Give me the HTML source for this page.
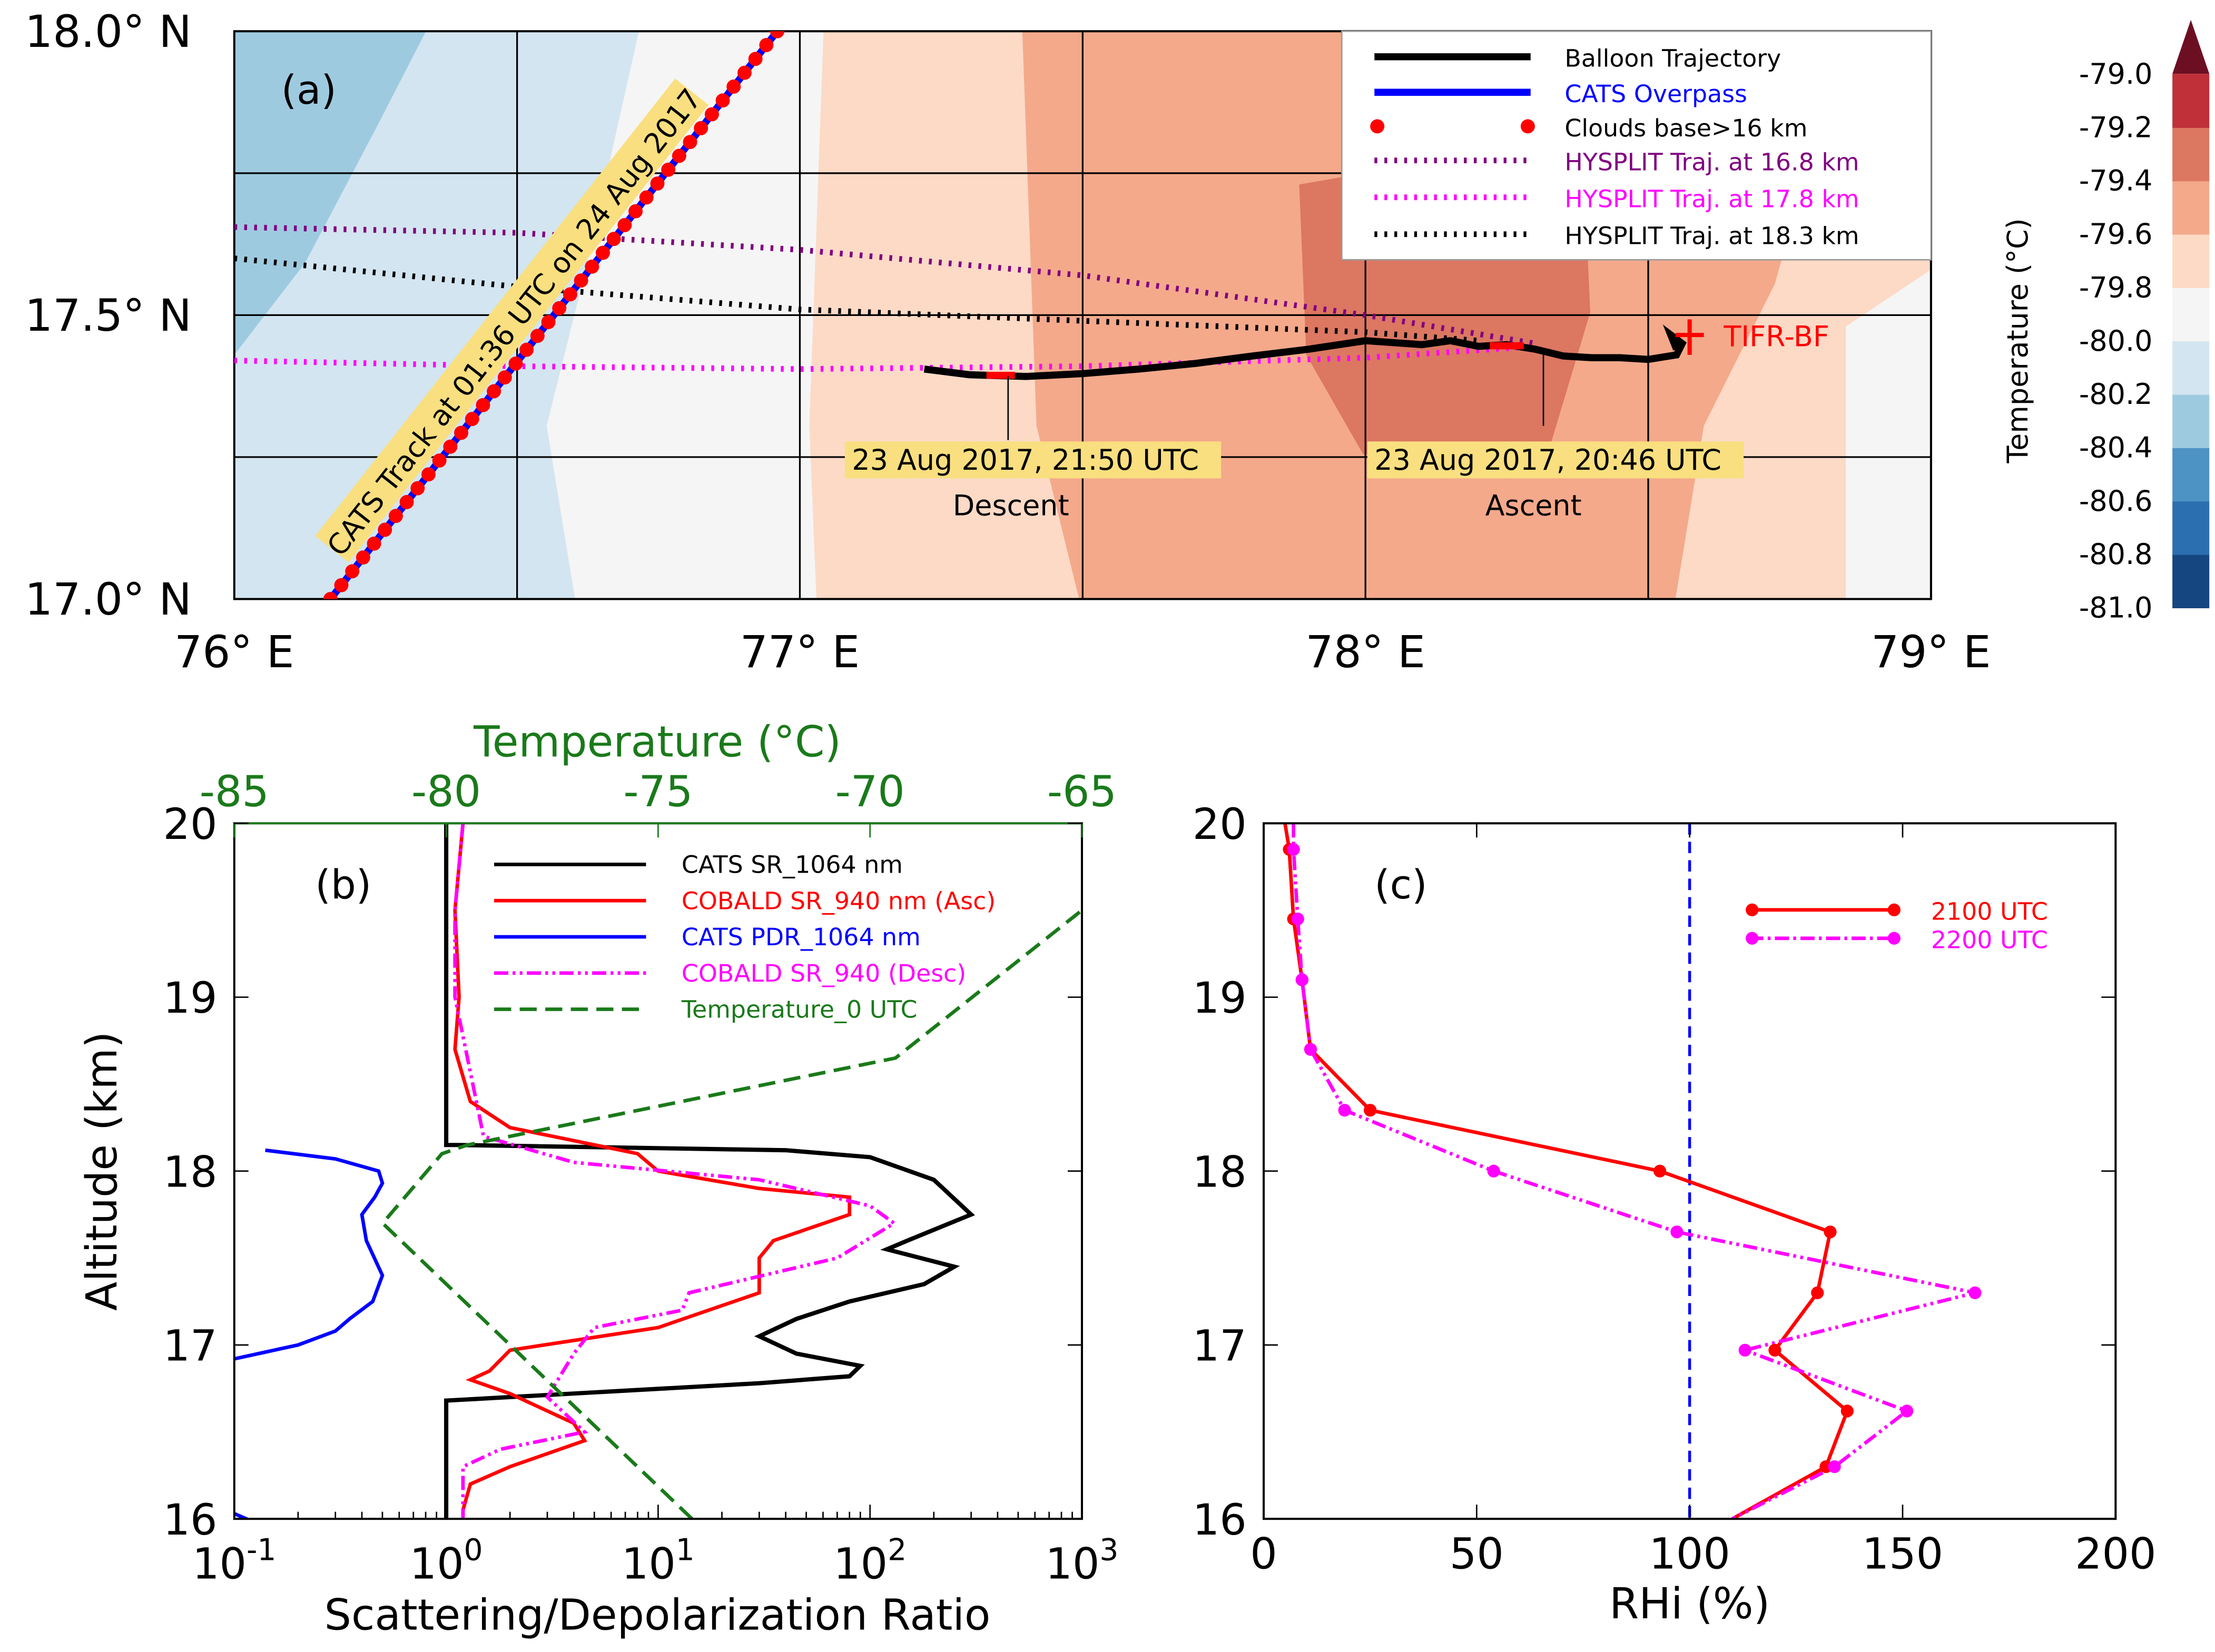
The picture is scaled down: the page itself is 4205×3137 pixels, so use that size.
<!DOCTYPE html>
<html><head><meta charset="utf-8"><style>
html,body{margin:0;padding:0;background:#fff}
svg{display:block;font-family:"DejaVu Sans","Liberation Sans",sans-serif}
</style></head><body>
<svg id="fig" width="4205" height="3137" viewBox="0 0 1560 1163.8" xmlns="http://www.w3.org/2000/svg">
<defs>
<clipPath id="clipA"><rect x="165" y="22" width="1195" height="400"/></clipPath>
<clipPath id="clipB"><rect x="165" y="580" width="597" height="490"/></clipPath>
<clipPath id="clipC"><rect x="890" y="580" width="600" height="490"/></clipPath>
</defs>
<g id="panelA">
<g clip-path="url(#clipA)" id="mapFill">
<rect x="165" y="22" width="1195" height="400" fill="#f5f5f5"/>
<polygon points="165,22 450,22 410,200 385,300 405,422 165,422" fill="#d3e5f0"/>
<polygon points="165,22 300,22 265,90 215,185 165,250" fill="#9ecae0"/>
<polygon points="580,22 1360,22 1360,190 1300,230 1300,422 575,422 570,300" fill="#fcdac6"/>
<polygon points="720,22 1300,22 1250,200 1200,300 1180,422 760,422 730,300" fill="#f4a98b"/>
<polygon points="915,130 1030,110 1115,110 1120,220 1090,320 960,320 920,250" fill="#dc7761"/>
</g>
<g id="gridA" stroke="#000" stroke-width="1.2"></g>
<rect x="165" y="22" width="1195" height="400" fill="none" stroke="#000" stroke-width="1.5"/>
<g id="mapData" clip-path="url(#clipA)"></g>
<text x="198" y="73" font-size="28">(a)</text>
<g id="axisA"></g>
<g>
<rect x="945" y="22" width="415" height="161" fill="#fff" stroke="#999" stroke-width="1"/>
<line x1="968" y1="40" x2="1078" y2="40" stroke="#000" stroke-width="5"/>
<text x="1102" y="47" font-size="17">Balloon Trajectory</text>
<line x1="968" y1="65" x2="1078" y2="65" stroke="#00f" stroke-width="5"/>
<text x="1102" y="72" font-size="17" fill="#00f">CATS Overpass</text>
<circle cx="970" cy="89" r="5" fill="#f00"/><circle cx="1076" cy="89" r="5" fill="#f00"/>
<text x="1102" y="96" font-size="17">Clouds base&gt;16 km</text>
<line x1="968" y1="113" x2="1078" y2="113" stroke="#800080" stroke-width="4" stroke-dasharray="2,5"/>
<text x="1102" y="120" font-size="17" fill="#800080">HYSPLIT Traj. at 16.8 km</text>
<line x1="968" y1="139" x2="1078" y2="139" stroke="#f0f" stroke-width="4" stroke-dasharray="2,5"/>
<text x="1102" y="146" font-size="17" fill="#f0f">HYSPLIT Traj. at 17.8 km</text>
<line x1="968" y1="165" x2="1078" y2="165" stroke="#000" stroke-width="4" stroke-dasharray="2,5"/>
<text x="1102" y="172" font-size="17">HYSPLIT Traj. at 18.3 km</text>
</g>
<g id="cbar"></g>
<text transform="translate(1428,240) rotate(-90)" text-anchor="middle" font-size="20">Temperature (°C)</text>
</g>
<g id="panelB"></g>
<g id="panelC"></g>
</svg>
<script>
const NS="http://www.w3.org/2000/svg";
function mk(parent,tag,attrs,text){const e=document.createElementNS(NS,tag);for(const k in attrs)e.setAttribute(k,attrs[k]);if(text!==undefined)e.textContent=text;parent.appendChild(e);return e;}
// ---------- Panel A data ----------
const lonTicks=[76,77,78,79];
const latTicks=[17.0,17.5,18.0];
const lonGrid=[76.5,77,77.5,78,78.5];
const latGrid=[17.25,17.5,17.75];
const catsLat=[17.0,18.0];
const catsLon=[76.17,76.96];
const balloonLon=[77.22,77.3,77.4,77.5,77.6,77.7,77.8,77.9,78.0,78.1,78.15,78.2,78.25,78.3,78.35,78.4,78.45,78.5,78.55,78.56,78.54,78.55];
const balloonLat=[17.405,17.395,17.392,17.397,17.405,17.415,17.428,17.44,17.455,17.448,17.455,17.445,17.448,17.44,17.428,17.425,17.425,17.422,17.43,17.45,17.465,17.44];
const hyPurpleLon=[76.0,76.5,77.0,77.5,78.0,78.3];
const hyPurpleLat=[17.655,17.645,17.615,17.57,17.5,17.45];
const hyBlackLon=[76.0,76.5,77.0,77.5,78.0,78.2];
const hyBlackLat=[17.6,17.55,17.51,17.49,17.47,17.455];
const hyMagLon=[76.0,76.5,77.0,77.5,78.0,78.3];
const hyMagLat=[17.42,17.41,17.405,17.41,17.425,17.445];
const cbLevels=[-81.0,-80.8,-80.6,-80.4,-80.2,-80.0,-79.8,-79.6,-79.4,-79.2,-79.0];
const cbColors=["#15467f","#2c6fb0","#4d93c4","#9ecae0","#d3e5f0","#f5f5f5","#fcdac6","#f4a98b","#dc7761","#bf3039"];
const ax=lon=>165+(lon-76)*398.33, ay=lat=>422-(lat-17)*400;
const gridA=document.getElementById('gridA');
lonGrid.forEach(l=>{const e=mk(gridA,'line',{x1:ax(l),x2:ax(l),y1:22,y2:422});});
latGrid.forEach(l=>{const e=mk(gridA,'line',{x1:165,x2:1360,y1:ay(l),y2:ay(l)});});
const axisA=document.getElementById('axisA');
lonTicks.forEach(l=>{const t=mk(axisA,'text',{x:ax(l),y:470,'font-size':31,'text-anchor':'middle'},l+'° E');});
latTicks.forEach(l=>{const t=mk(axisA,'text',{x:135,y:ay(l)+11,'font-size':31,'text-anchor':'end'},l.toFixed(1)+'° N');});
const md=document.getElementById('mapData');
function pl(parent,xs,ys,fx,fy,attrs,name){const p=xs.map((v,i)=>fx(v)+','+fy(ys[i])).join(' ');const e=mk(parent,'polyline',Object.assign({points:p,fill:'none'},attrs));return e;}
pl(md,hyPurpleLon,hyPurpleLat,ax,ay,{stroke:'#800080','stroke-width':4,'stroke-dasharray':'2,5'},'hysplit-16-8km');
pl(md,hyBlackLon,hyBlackLat,ax,ay,{stroke:'#000','stroke-width':4,'stroke-dasharray':'2,5'},'hysplit-18-3km');
pl(md,hyMagLon,hyMagLat,ax,ay,{stroke:'#f0f','stroke-width':4,'stroke-dasharray':'2,5'},'hysplit-17-8km');
const x0=ax(catsLon[0]),y0=ay(catsLat[0]),x1=ax(catsLon[1]),y1=ay(catsLat[1]);
const ang=Math.atan2(y1-y0,x1-x0)*180/Math.PI;
const lg=mk(md,'g',{transform:`translate(${(x0+x1)/2-28},${(y0+y1)/2+5}) rotate(${ang})`});

mk(lg,'rect',{x:-205,y:-17,width:410,height:30,fill:'#f9df7f'});
mk(lg,'text',{x:0,y:7,'font-size':20,'text-anchor':'middle'},'CATS Track at 01:36 UTC on 24 Aug 2017');
pl(md,catsLon,catsLat,ax,ay,{stroke:'#00f','stroke-width':5},'cats-overpass');
for(let i=0;i<=41;i++){const f=i/41;const c=mk(md,'circle',{cx:x0+(x1-x0)*f,cy:y0+(y1-y0)*f,r:5,fill:'#f00'});}
pl(md,balloonLon,balloonLat,ax,ay,{stroke:'#000','stroke-width':5},'balloon-trajectory');
[[77.33,77.38,17.394],[78.22,78.28,17.446]].forEach(s=>{const e=mk(md,'line',{x1:ax(s[0]),x2:ax(s[1]),y1:ay(s[2]),y2:ay(s[2]),stroke:'#f00','stroke-width':5});});
const pa=document.getElementById('panelA');
const tifr=mk(pa,'g',{});
mk(tifr,'line',{x1:1180,x2:1200,y1:236,y2:236,stroke:'#f00','stroke-width':3});
mk(tifr,'line',{x1:1190,x2:1190,y1:225,y2:250,stroke:'#f00','stroke-width':3});
mk(tifr,'text',{x:1214,y:244,'font-size':20,fill:'#f00'},'TIFR-BF');
[[710,265,710,310,600,'23 Aug 2017, 21:50 UTC',712,'Descent'],[1087,250,1087,300,968,'23 Aug 2017, 20:46 UTC',1080,'Ascent']].forEach(a=>{
 const g=mk(pa,'g',{});
 mk(g,'line',{x1:a[0],y1:a[1],x2:a[2],y2:a[3],stroke:'#000','stroke-width':1});
 mk(g,'rect',{x:a[4]-5,y:311,width:265,height:26,fill:'#f9df7f'});
 mk(g,'text',{x:a[4],y:331,'font-size':20},a[5]);
 mk(g,'text',{x:a[6],y:363,'font-size':20,'text-anchor':'middle'},a[7]);
});
const cb=document.getElementById('cbar');const cbTop=52,cbBot=428,cbX=1530,cbW=26;const bh=(cbBot-cbTop)/cbColors.length;
cbColors.forEach((c,i)=>{const r=mk(cb,'rect',{x:cbX,y:cbBot-(i+1)*bh,width:cbW,height:bh+0.5,fill:c});});
mk(cb,'polygon',{points:`${cbX},${cbTop} ${cbX+cbW},${cbTop} ${cbX+cbW/2},14`,fill:'#6d0f22'});
cbLevels.forEach((v,i)=>{const y=cbBot-i*bh;const t=mk(cb,'text',{x:1516,y:y+7,'font-size':20,'text-anchor':'end'},v.toFixed(1));});

// ---------- Panel B data ----------
const bAlt=[16,17,18,19,20];
const bXDec=[-1,0,1,2,3];
const tTicks=[-85,-80,-75,-70,-65];
const catsSR=[1,1,1.15,40,100,200,300,150,120,250,180,80,45,30,45,90,80,30,1,1];
const catsSRAlt=[20,18.15,18.15,18.12,18.08,17.95,17.75,17.6,17.55,17.45,17.35,17.25,17.15,17.05,16.95,16.88,16.82,16.78,16.68,16];
const cobAsc=[1.2,1.1,1.15,1.1,1.3,2,8,10,30,80,80,35,30,30,10,2,1.6,1.3,2,4,4.5,2,1.3,1.2,1.2];
const cobAscAlt=[20,19.5,19,18.7,18.4,18.25,18.1,18,17.9,17.85,17.75,17.6,17.5,17.3,17.1,16.97,16.85,16.8,16.72,16.55,16.45,16.3,16.2,16.05,16];
const cobDes=[1.2,1.1,1.1,1.5,4,30,100,130,70,14,13,5,4,3,4.5,1.8,1.2,1.2];
const cobDesAlt=[20,19.5,19,18.2,18.05,17.95,17.8,17.7,17.5,17.3,17.2,17.1,16.95,16.7,16.5,16.4,16.3,16];
const pdr=[0.14,0.3,0.48,0.5,0.46,0.4,0.42,0.5,0.45,0.35,0.3,0.2,0.1];
const pdrAlt=[18.12,18.07,18.0,17.93,17.85,17.75,17.6,17.4,17.25,17.15,17.08,17.0,16.92];
const tempC=[-74.2,-81.5,-80.1,-79.5,-69.4,-65];
const tempAlt=[16,17.7,18.1,18.15,18.65,19.5];
const bx=v=>165+(Math.log10(v)+1)*149.25, by=a=>1070-(a-16)*122.5, tx=t=>165+(t+85)*29.85;
const pb=document.getElementById('panelB');
const bd=mk(pb,'g',{'clip-path':'url(#clipB)'});
pl(bd,catsSR,catsSRAlt,bx,by,{stroke:'#000','stroke-width':3},'cats-sr-1064');
pl(bd,cobAsc,cobAscAlt,bx,by,{stroke:'#f00','stroke-width':2.5},'cobald-sr-asc');
pl(bd,cobDes,cobDesAlt,bx,by,{stroke:'#f0f','stroke-width':2.5,'stroke-dasharray':'10,3,2,3,2,3'},'cobald-sr-desc');
pl(bd,pdr,pdrAlt,bx,by,{stroke:'#00f','stroke-width':2.5},'cats-pdr-1064');
pl(bd,[0.1,0.13],[16.03,15.97],bx,by,{stroke:'#00f','stroke-width':2.5},'cats-pdr-low');
pl(bd,tempC,tempAlt,tx,by,{stroke:'#1a7a1a','stroke-width':2.5,'stroke-dasharray':'12,6'},'temperature-0utc');
mk(pb,'rect',{x:165,y:580,width:597,height:490,fill:'none',stroke:'#000','stroke-width':1.5});
mk(pb,'line',{x1:165,x2:762,y1:580,y2:580,stroke:'#1a7a1a','stroke-width':1.5});
bXDec.forEach(d=>{const x=bx(Math.pow(10,d));mk(pb,'line',{x1:x,x2:x,y1:1070,y2:1060,stroke:'#000'});const t=mk(pb,'text',{x:x,y:1112,'font-size':30,'text-anchor':'middle'});t.textContent='10';mk(t,'tspan',{dy:-13,'font-size':21},String(d));
 if(d<3)for(let m=2;m<10;m++){const xm=bx(m*Math.pow(10,d));mk(pb,'line',{x1:xm,x2:xm,y1:1070,y2:1065,stroke:'#000'});}});
tTicks.forEach(v=>{const x=tx(v);mk(pb,'line',{x1:x,x2:x,y1:580,y2:590,stroke:'#1a7a1a'});const t=mk(pb,'text',{x:x,y:568,'font-size':30,'text-anchor':'middle',fill:'#1a7a1a'},String(v));});
function yTicks(g,x0,x1){bAlt.forEach(a=>{const y=by(a);mk(g,'line',{x1:x0,x2:x0+10,y1:y,y2:y,stroke:'#000'});mk(g,'line',{x1:x1,x2:x1-10,y1:y,y2:y,stroke:'#000'});const t=mk(g,'text',{x:x0-12,y:y+11,'font-size':30,'text-anchor':'end'},String(a));});}
yTicks(pb,165,762);
mk(pb,'text',{x:222,y:633,'font-size':28},'(b)');
mk(pb,'text',{x:463,y:1148,'font-size':30,'text-anchor':'middle'},'Scattering/Depolarization Ratio');
mk(pb,'text',{x:463,y:533,'font-size':30,'text-anchor':'middle',fill:'#1a7a1a'},'Temperature (°C)');
mk(pb,'text',{transform:'translate(82,825) rotate(-90)','font-size':30,'text-anchor':'middle'},'Altitude (km)');
const legB=[['CATS SR_1064 nm','#000',''],['COBALD SR_940 nm (Asc)','#f00',''],['CATS PDR_1064 nm','#00f',''],['COBALD SR_940 (Desc)','#f0f','10,3,2,3,2,3'],['Temperature_0 UTC','#1a7a1a','12,6']];
legB.forEach((l,i)=>{const y=609+i*25.5;const g=mk(pb,'g',{});mk(g,'line',{x1:348,x2:455,y1:y,y2:y,stroke:l[1],'stroke-width':2.5,'stroke-dasharray':l[2]});mk(g,'text',{x:480,y:y+6,'font-size':17,fill:l[1]},l[0]);});

// ---------- Panel C data ----------
const rhTicks=[0,50,100,150,200];
const rh2100=[5,6,7,9,11,25,93,133,130,120,137,132,110];
const rh2100Alt=[20,19.85,19.45,19.1,18.7,18.35,18.0,17.65,17.3,16.97,16.62,16.3,16.0];
const rh2200=[7,7,8,9,11,19,54,97,167,113,151,134,110];
const rh2200Alt=[20,19.85,19.45,19.1,18.7,18.35,18.0,17.65,17.3,16.97,16.62,16.3,16.0];
const cx=v=>890+v*3;
const pc=document.getElementById('panelC');
const cd=mk(pc,'g',{'clip-path':'url(#clipC)'});
mk(cd,'line',{x1:cx(100),x2:cx(100),y1:580,y2:1070,stroke:'#00f','stroke-width':2,'stroke-dasharray':'8,5'});
pl(cd,rh2100,rh2100Alt,cx,by,{stroke:'#f00','stroke-width':2.5},'rhi-2100-line');
pl(cd,rh2200,rh2200Alt,cx,by,{stroke:'#f0f','stroke-width':2.5,'stroke-dasharray':'10,3,2,3,2,3'},'rhi-2200-line');
rh2100.forEach((v,i)=>{if(i>0&&i<12){const c=mk(cd,'circle',{cx:cx(v),cy:by(rh2100Alt[i]),r:4.5,fill:'#f00'});}});
rh2200.forEach((v,i)=>{if(i>0&&i<12){const c=mk(cd,'circle',{cx:cx(v),cy:by(rh2200Alt[i]),r:4.5,fill:'#f0f'});}});
mk(pc,'rect',{x:890,y:580,width:600,height:490,fill:'none',stroke:'#000','stroke-width':1.5});
rhTicks.forEach(v=>{const x=cx(v);mk(pc,'line',{x1:x,x2:x,y1:1070,y2:1060,stroke:'#000'});mk(pc,'line',{x1:x,x2:x,y1:580,y2:590,stroke:'#000'});const t=mk(pc,'text',{x:x,y:1105,'font-size':30,'text-anchor':'middle'},String(v));});
yTicks(pc,890,1490);
mk(pc,'text',{x:968,y:633,'font-size':28},'(c)');
mk(pc,'text',{x:1190,y:1140,'font-size':30,'text-anchor':'middle'},'RHi (%)');
const lc=mk(pc,'g',{});
mk(lc,'line',{x1:1232,x2:1336,y1:641,y2:641,stroke:'#f00','stroke-width':2.5});mk(lc,'circle',{cx:1234,cy:641,r:4.5,fill:'#f00'});mk(lc,'circle',{cx:1334,cy:641,r:4.5,fill:'#f00'});
mk(lc,'text',{x:1360,y:648,'font-size':17,fill:'#f00'},'2100 UTC');
mk(lc,'line',{x1:1232,x2:1336,y1:661,y2:661,stroke:'#f0f','stroke-width':2.5,'stroke-dasharray':'10,3,2,3'});mk(lc,'circle',{cx:1234,cy:661,r:4.5,fill:'#f0f'});mk(lc,'circle',{cx:1334,cy:661,r:4.5,fill:'#f0f'});
mk(lc,'text',{x:1360,y:668,'font-size':17,fill:'#f0f'},'2200 UTC');
</script>
</body></html>
